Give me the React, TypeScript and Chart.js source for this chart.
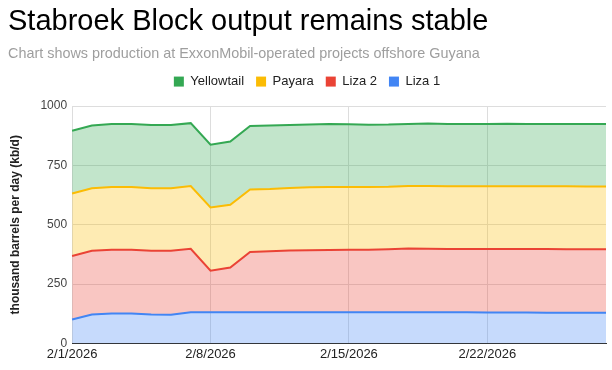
import React, { useEffect, useRef } from "react";
import { Chart, registerables } from "chart.js";

Chart.register(...registerables);

const dates = [
  "2/1/2026", "2/2/2026", "2/3/2026", "2/4/2026", "2/5/2026", "2/6/2026", "2/7/2026",
  "2/8/2026", "2/9/2026", "2/10/2026", "2/11/2026", "2/12/2026", "2/13/2026", "2/14/2026",
  "2/15/2026", "2/16/2026", "2/17/2026", "2/18/2026", "2/19/2026", "2/20/2026", "2/21/2026",
  "2/22/2026", "2/23/2026", "2/24/2026", "2/25/2026", "2/26/2026", "2/27/2026", "2/28/2026",
];

const liza1 = [101, 122, 126, 126, 122, 121, 131, 131, 131, 131, 131, 131, 131, 131, 131, 131, 131, 131, 131, 131, 131, 130, 130, 130, 129, 129, 129, 129];
const liza2 = [267, 268, 269, 269, 268, 269, 268, 175, 189, 254, 257, 260, 262, 263, 264, 264, 266, 269, 268, 267, 267, 268, 268, 268, 269, 268, 268, 268];
const payara = [264, 264, 264, 264, 264, 264, 264, 267, 264, 264, 263, 264, 265, 265, 264, 264, 263, 263, 264, 264, 264, 264, 264, 264, 264, 265, 264, 264];
const yellowtail = [264, 264, 265, 265, 266, 266, 265, 264, 267, 267, 267, 265, 264, 265, 264, 262, 262, 262, 264, 262, 263, 263, 264, 263, 263, 263, 264, 264];

const yTicks = [0, 250, 500, 750, 1000];

const FONT = "'Liberation Sans', Arial, sans-serif";

const legendGap = {
  id: "legendGap",
  beforeInit(chart: any) {
    const lg = chart.legend;
    if (!lg) return;
    const orig = lg.fit;
    lg.fit = function (this: any) {
      orig.call(this);
      this.height += 8;
    };
  },
};

export default function App() {
  const ref = useRef<HTMLCanvasElement | null>(null);

  useEffect(() => {
    if (!ref.current) return;
    const chart = new Chart(ref.current, {
      type: "line",
      data: {
        labels: dates,
        datasets: [
          { label: "Liza 1", data: liza1, borderColor: "#4285f4", backgroundColor: "rgba(66,133,244,0.3)", fill: "origin" },
          { label: "Liza 2", data: liza2, borderColor: "#ea4335", backgroundColor: "rgba(234,67,53,0.3)", fill: "-1" },
          { label: "Payara", data: payara, borderColor: "#fbbc04", backgroundColor: "rgba(251,188,4,0.3)", fill: "-1" },
          { label: "Yellowtail", data: yellowtail, borderColor: "#34a853", backgroundColor: "rgba(52,168,83,0.3)", fill: "-1" },
        ],
      },
      plugins: [legendGap],
      options: {
        responsive: false,
        animation: false,
        layout: { padding: { left: 8, right: 6, top: 0, bottom: 5 } },
        elements: {
          line: { borderWidth: 2, tension: 0 },
          point: { radius: 0, hoverRadius: 0 },
        },
        plugins: {
          tooltip: { enabled: false },
          title: {
            display: true,
            text: "Stabroek Block output remains stable",
            align: "start",
            color: "#000000",
            font: { family: FONT, size: 29, weight: "normal" },
            padding: { top: 5, bottom: 0 },
          },
          subtitle: {
            display: true,
            text: "Chart shows production at ExxonMobil-operated projects offshore Guyana",
            align: "start",
            color: "#9e9e9e",
            font: { family: FONT, size: 14.4 },
            padding: { top: 6, bottom: 0 },
          },
          legend: {
            display: true,
            position: "top",
            reverse: true,
            labels: {
              boxWidth: 10,
              boxHeight: 10,
              padding: 12,
              color: "#222222",
              font: { family: FONT, size: 13 },
              generateLabels: (c: any) => {
                const items = (Chart.defaults.plugins.legend.labels.generateLabels as any)(c);
                return items.map((it: any) => ({ ...it, fillStyle: it.strokeStyle, lineWidth: 0 }));
              },
            },
          },
        },
        scales: {
          x: {
            type: "category",
            offset: false,
            grid: {
              drawTicks: false,
              color: (ctx: any) => (ctx.index % 7 === 0 ? "#dddddd" : "rgba(0,0,0,0)"),
            },
            border: { display: true, color: "#333333", width: 1 },
            ticks: {
              autoSkip: false,
              maxRotation: 0,
              padding: 3,
              color: "#222222",
              font: { family: FONT, size: 13 },
              callback: function (this: any, value: any, index: number) {
                return index % 7 === 0 ? this.getLabelForValue(value) : "";
              },
            },
          },
          y: {
            stacked: true,
            min: 0,
            max: 1000,
            afterBuildTicks: (axis: any) => {
              axis.ticks = yTicks.map((v) => ({ value: v }));
            },
            grid: {
              drawTicks: false,
              color: (ctx: any) => (ctx.tick && ctx.tick.value === 0 ? "#333333" : "#dddddd"),
            },
            border: { display: false },
            ticks: {
              padding: 5,
              color: "#444444",
              font: { family: FONT, size: 12 },
              callback: (value: any) => String(value),
            },
            title: {
              display: true,
              text: "thousand barrels per day (kb/d)",
              color: "#222222",
              font: { family: FONT, size: 12, weight: "bold" },
              padding: { top: 0, bottom: 13 },
            },
          },
        },
      },
    });
    return () => chart.destroy();
  }, []);

  return (
    <div style={{ position: "absolute", left: 0, top: 0, width: 612, height: 370, background: "#ffffff" }}>
      <canvas ref={ref} width={612} height={370} style={{ display: "block" }} />
    </div>
  );
}
